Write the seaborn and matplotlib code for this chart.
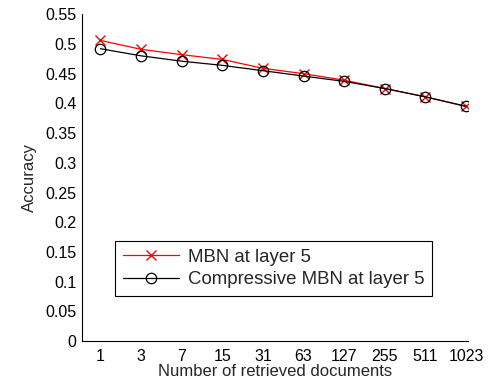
import pandas as pd
import matplotlib
matplotlib.use("Agg")
import matplotlib.pyplot as plt
import seaborn as sns

# Daten
docs = ["1", "3", "7", "15", "31", "63", "127", "255", "511", "1023"]
acc_mbn = [0.506, 0.491, 0.482, 0.474, 0.459, 0.450, 0.439, 0.425, 0.411, 0.395]
acc_comp = [0.492, 0.480, 0.471, 0.464, 0.455, 0.446, 0.437, 0.425, 0.411, 0.395]

sns.set_style("white")
plt.rcParams['font.family'] = ['Liberation Sans', 'DejaVu Sans']
plt.rcParams['xtick.direction'] = 'in'
plt.rcParams['ytick.direction'] = 'in'

df = pd.DataFrame({
    "docs": docs * 2,
    "acc": acc_mbn + acc_comp,
    "method": ["MBN at layer 5"] * len(docs) + ["Compressive MBN at layer 5"] * len(docs),
})

fig, ax = plt.subplots(figsize=(4.98, 3.85), dpi=100)
fig.subplots_adjust(left=0.165, right=0.94, top=0.963, bottom=0.114)

sns.lineplot(data=df[df["method"] == "MBN at layer 5"], x="docs", y="acc", sort=False,
             color="red", marker="x", markersize=6.5, markeredgecolor="red",
             markeredgewidth=1, linewidth=0.9, label="MBN at layer 5", ax=ax)
sns.lineplot(data=df[df["method"] == "Compressive MBN at layer 5"], x="docs", y="acc", sort=False,
             color="black", marker="o", markersize=7.5, markerfacecolor="none",
             markeredgecolor="black", markeredgewidth=0.9, linewidth=0.9,
             label="Compressive MBN at layer 5", ax=ax)

ax.set_xlim(-0.45, 9.05)
ax.set_ylim(0, 0.55)
ax.set_yticks([i * 0.05 for i in range(12)])
ax.set_yticklabels(["0", "0.05", "0.1", "0.15", "0.2", "0.25", "0.3", "0.35", "0.4", "0.45", "0.5", "0.55"])
ax.tick_params(axis="both", labelsize=11.5, length=4, width=0.8, colors="black", pad=4)
ax.tick_params(axis="x", pad=6)
ax.set_xlabel("Number of retrieved documents", fontsize=12, labelpad=0)
ax.set_ylabel("Accuracy", fontsize=12, labelpad=6)

for s in ["top", "right"]:
    ax.spines[s].set_visible(False)
for s in ["left", "bottom"]:
    ax.spines[s].set_color("black")
    ax.spines[s].set_linewidth(0.8)

leg = ax.legend(loc="lower left", bbox_to_anchor=(0.062, 0.11), fontsize=13.4, frameon=True,
                fancybox=False, edgecolor="black", framealpha=1, handlelength=3.0,
                borderpad=0.4, labelspacing=0.3, handletextpad=0.5, borderaxespad=0.5)
leg.get_frame().set_linewidth(0.8)

plt.savefig("out.png", dpi=100)
